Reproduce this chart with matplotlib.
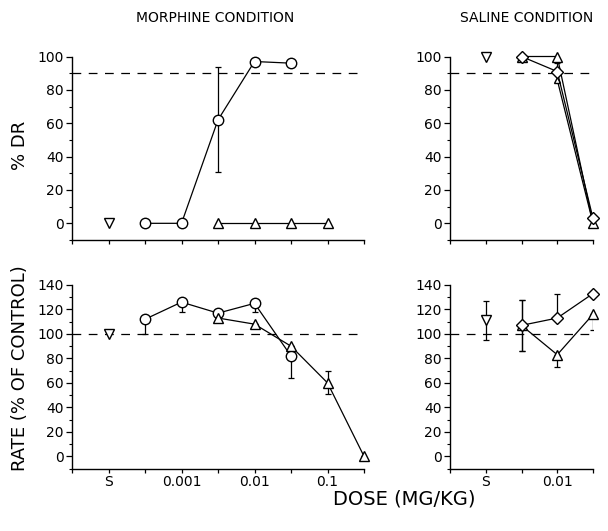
import matplotlib
matplotlib.use("Agg")
import matplotlib.pyplot as plt
import numpy as np

plt.rcParams['font.family'] = ['DejaVu Sans']

# dose axes (categorical positions, 'S' = saline)
morph_doses = ['S', 0.0003, 0.001, 0.003, 0.01, 0.03, 0.1, 0.3]
sal_doses = ['S', 0.003, 0.01, 0.03]
morph_ticklabels = {'S': 'S', 0.001: '0.001', 0.01: '0.01', 0.1: '0.1'}
sal_ticklabels = {'S': 'S', 0.01: '0.01'}

# top left: % DR, morphine condition
m_dr_s = 0
m_dr_circ_x = [0.0003, 0.001, 0.003, 0.01, 0.03]
m_dr_circ = [0, 0, 62, 97, 96]
m_dr_circ_lo = [0, 0, 31, 0, 0]
m_dr_circ_hi = [0, 0, 32, 0, 0]
m_dr_tri_x = [0.003, 0.01, 0.03, 0.1]
m_dr_tri = [0, 0, 0, 0]

# top right: % DR, saline condition
s_dr_s = 100
s_dr_dia_x = [0.003, 0.01, 0.03]
s_dr_dia = [100, 91, 3]
s_dr_dia_lo = [0, 0, 0]
s_dr_dia_hi = [0, 5, 0]
s_dr_tri_x = [0.003, 0.01, 0.03]
s_dr_tri = [100, 100, 0]
s_dr_tri2_x = [0.01, 0.03]
s_dr_tri2 = [86, 0]

# bottom left: rate, morphine condition
m_rate_s = 100
m_rate_circ_x = [0.0003, 0.001, 0.003, 0.01, 0.03]
m_rate_circ = [112, 126, 117, 125, 82]
m_rate_circ_lo = [12, 8, 0, 7, 18]
m_rate_circ_hi = [0, 0, 0, 0, 0]
m_rate_tri_x = [0.003, 0.01, 0.03, 0.1, 0.3]
m_rate_tri = [113, 108, 90, 60, 0]
m_rate_tri_lo = [0, 0, 0, 9, 0]
m_rate_tri_hi = [0, 0, 0, 10, 0]

# bottom right: rate, saline condition
s_rate_s = 111
s_rate_s_lo = 16
s_rate_s_hi = 16
s_rate_dia_x = [0.003, 0.01, 0.03]
s_rate_dia = [107, 113, 133]
s_rate_dia_lo = [21, 0, 0]
s_rate_dia_hi = [21, 20, 0]
s_rate_tri_x = [0.003, 0.01, 0.03]
s_rate_tri = [107, 83, 116]
s_rate_tri_lo = [21, 10, 13]
s_rate_tri_hi = [21, 0, 0]

W, H = 608, 531
fig = plt.figure(figsize=(W / 100, H / 100), dpi=100)

def box(x0, x1, ytop, ybot):
    return [x0 / W, 1 - ybot / H, (x1 - x0) / W, (ybot - ytop) / H]

ax_tl = fig.add_axes(box(72, 364, 56.5, 240))
ax_tr = fig.add_axes(box(450, 593, 56.5, 240))
ax_bl = fig.add_axes(box(72, 364, 285, 468.5))
ax_br = fig.add_axes(box(450, 593, 285, 468.5))

mk = dict(color='black', lw=0.9, mfc='white', mec='black', mew=1.0)
eb = dict(fmt='none', ecolor='black', elinewidth=0.9, capsize=2, capthick=0.9)


def pos(doses, xs):
    return [doses.index(x) + 1 for x in xs]


def setup(ax, doses, labels, ylim, yticks, ref):
    n = len(doses)
    ax.set_xlim(0, n)
    ax.set_ylim(*ylim)
    ax.set_xticks(range(0, n + 1))
    ax.set_xticklabels([''] + [labels.get(d, '') for d in doses])
    ax.set_yticks(yticks)
    ax.set_yticks(np.arange(ylim[0], yticks[-1] + 1, 10), minor=True)
    ax.spines['top'].set_visible(False)
    ax.spines['right'].set_visible(False)
    ax.spines['left'].set_bounds(ylim[0], yticks[-1])
    for s in ('left', 'bottom'):
        ax.spines[s].set_linewidth(1.0)
    ax.tick_params(axis='both', direction='out', length=4, width=0.9, labelsize=10, pad=2)
    ax.tick_params(axis='y', which='minor', length=2.5, width=0.8)
    ax.tick_params(axis='x', length=3, pad=1.5)
    ax.axhline(ref, color='black', lw=0.9, dashes=(7, 6), zorder=1)


def draw(ax, doses, xs, ys, marker, ms, lo=None, hi=None):
    p = pos(doses, xs)
    if lo is not None:
        ax.errorbar(p, ys, yerr=[lo, hi], zorder=2, **eb)
    ax.plot(p, ys, marker=marker, ms=ms, zorder=3, clip_on=False, **mk)


# top left
setup(ax_tl, morph_doses, morph_ticklabels, (-10, 100), [0, 20, 40, 60, 80, 100], 90)
draw(ax_tl, morph_doses, ['S'], [m_dr_s], 'v', 6.5)
draw(ax_tl, morph_doses, m_dr_circ_x, m_dr_circ, 'o', 7.5, m_dr_circ_lo, m_dr_circ_hi)
draw(ax_tl, morph_doses, m_dr_tri_x, m_dr_tri, '^', 6.5)
ax_tl.set_xticklabels([])

# top right
setup(ax_tr, sal_doses, sal_ticklabels, (-10, 100), [0, 20, 40, 60, 80, 100], 90)
draw(ax_tr, sal_doses, ['S'], [s_dr_s], 'v', 6.5)
draw(ax_tr, sal_doses, s_dr_tri2_x, s_dr_tri2, '^', 5)
draw(ax_tr, sal_doses, s_dr_tri_x, s_dr_tri, '^', 6.5)
draw(ax_tr, sal_doses, s_dr_dia_x, s_dr_dia, 'D', 6, s_dr_dia_lo, s_dr_dia_hi)
ax_tr.set_xticklabels([])

# bottom left
setup(ax_bl, morph_doses, morph_ticklabels, (-10, 140), [0, 20, 40, 60, 80, 100, 120, 140], 100)
draw(ax_bl, morph_doses, ['S'], [m_rate_s], 'v', 6.5)
draw(ax_bl, morph_doses, m_rate_circ_x, m_rate_circ, 'o', 7.5, m_rate_circ_lo, m_rate_circ_hi)
draw(ax_bl, morph_doses, m_rate_tri_x, m_rate_tri, '^', 6.5, m_rate_tri_lo, m_rate_tri_hi)

# bottom right
setup(ax_br, sal_doses, sal_ticklabels, (-10, 140), [0, 20, 40, 60, 80, 100, 120, 140], 100)
draw(ax_br, sal_doses, ['S'], [s_rate_s], 'v', 6.5, [s_rate_s_lo], [s_rate_s_hi])
draw(ax_br, sal_doses, s_rate_tri_x, s_rate_tri, '^', 6.5, s_rate_tri_lo, s_rate_tri_hi)
draw(ax_br, sal_doses, s_rate_dia_x, s_rate_dia, 'D', 6, s_rate_dia_lo, s_rate_dia_hi)

# text
fig.text(215 / W, 1 - 18 / H, 'MORPHINE CONDITION', ha='center', va='center', fontsize=10)
fig.text(527 / W, 1 - 18 / H, 'SALINE CONDITION', ha='center', va='center', fontsize=10)
fig.text(404 / W, 1 - 499 / H, 'DOSE (MG/KG)', ha='center', va='center', fontsize=14)
fig.text(20 / W, 1 - 145 / H, '% DR', ha='center', va='center', rotation=90, fontsize=13)
fig.text(20 / W, 1 - 368 / H, 'RATE (% OF CONTROL)', ha='center', va='center', rotation=90, fontsize=13)

fig.savefig('out.png', dpi=100)
